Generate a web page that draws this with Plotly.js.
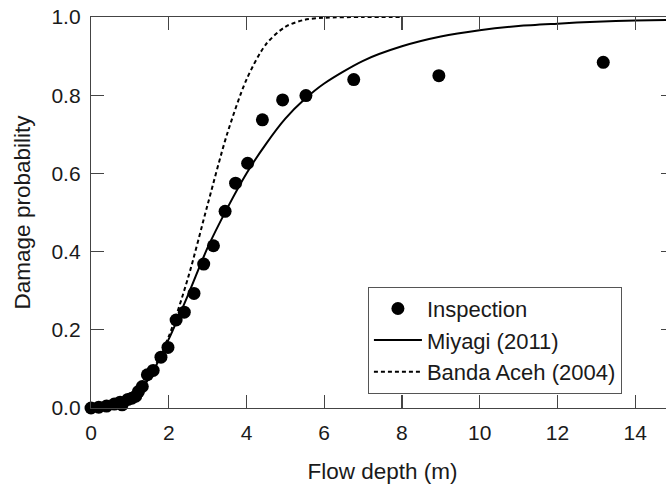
<!DOCTYPE html>
<html>
<head>
<meta charset="utf-8">
<script src="https://cdn.plot.ly/plotly-3.0.1.min.js"></script>
<style>
html,body{margin:0;padding:0;overflow:hidden;background:#fff;}
#chart{width:680px;height:491px;}
</style>
</head>
<body>
<div id="chart"></div>
<script>
// Inspection points (flow depth m, damage probability)
const inspDepth = [0, 0.2, 0.4, 0.6, 0.75, 0.8, 0.95, 1.05, 1.15, 1.22, 1.32, 1.45, 1.6, 1.8, 1.98, 2.19, 2.4, 2.65, 2.9, 3.15, 3.45, 3.72, 4.03, 4.41, 4.93, 5.53, 6.76, 8.95, 13.18];
const inspProb  = [0, 0.002, 0.005, 0.01, 0.015, 0.008, 0.022, 0.025, 0.03, 0.042, 0.055, 0.085, 0.096, 0.13, 0.155, 0.225, 0.245, 0.293, 0.368, 0.415, 0.503, 0.575, 0.626, 0.737, 0.788, 0.799, 0.840, 0.850, 0.884];

// Miyagi (2011) curve
const miyagiDepth = [0, 0.5, 1.0, 1.5, 2.0, 2.5, 3.0, 3.5, 4.0, 4.5, 5.0, 5.5, 6.0, 7.0, 8.0, 9.0, 10, 11, 12, 13, 14, 15];
const miyagiProb  = [0, 0.0005, 0.017, 0.077, 0.176, 0.29, 0.41, 0.51, 0.60, 0.675, 0.74, 0.79, 0.83, 0.888, 0.925, 0.95, 0.966, 0.977, 0.983, 0.988, 0.991, 0.993];

// Banda Aceh (2004) curve
const bandaDepth = [0, 0.5, 1.0, 1.5, 2.0, 2.5, 3.0, 3.5, 4.0, 4.5, 5.0, 5.5, 6.0, 7.0, 8.0];
const bandaProb  = [0.002, 0.01, 0.03, 0.083, 0.183, 0.334, 0.52, 0.70, 0.84, 0.93, 0.975, 0.993, 0.998, 1.0, 1.0];

const xTicks = [0, 2, 4, 6, 8, 10, 12, 14];
const yTicks = [0, 0.2, 0.4, 0.6, 0.8, 1.0];
const yTickText = ["0.0", "0.2", "0.4", "0.6", "0.8", "1.0"];

const font = "Liberation Sans, Arial, sans-serif";
const axisColor = "#444";
const textColor = "#1a1a1a";

const traces = [
  {x: inspDepth, y: inspProb, name: "Inspection", type: "scatter", mode: "markers",
   marker: {color: "#000", size: 13}, cliponaxis: false},
  {x: miyagiDepth, y: miyagiProb, name: "Miyagi (2011)", type: "scatter", mode: "lines",
   line: {color: "#000", width: 2, shape: "spline", smoothing: 0.8}},
  {x: bandaDepth, y: bandaProb, name: "Banda Aceh (2004)", type: "scatter", mode: "lines",
   line: {color: "#000", width: 2, dash: "4px,3px", shape: "spline", smoothing: 0.8}}
];

const layout = {
  width: 680, height: 491,
  margin: {l: 91, r: 6, t: 17, b: 83},
  paper_bgcolor: "#fff", plot_bgcolor: "#fff",
  font: {family: font, size: 21, color: textColor},
  showlegend: true,
  legend: {x: 0.475, y: 0.1734, xanchor: "left", yanchor: "middle",
           bordercolor: "#555", borderwidth: 1, bgcolor: "#fff", itemwidth: 48,
           font: {family: font, size: 22, color: textColor}, tracegroupgap: 0},
  xaxis: {range: [0, 15], tickvals: xTicks, ticktext: xTicks.map(String),
          ticks: "inside", ticklen: 13, tickwidth: 1.2, tickcolor: axisColor,
          showline: true, linecolor: axisColor, linewidth: 1.2, mirror: "ticks",
          showgrid: false, zeroline: false, ticklabelstandoff: 6,
          tickfont: {family: font, size: 21, color: textColor},
          title: {text: "Flow depth (m)", font: {family: font, size: 22.5, color: textColor}, standoff: 19}},
  yaxis: {range: [0, 1], tickvals: yTicks, ticktext: yTickText,
          ticks: "inside", ticklen: 13, tickwidth: 1.2, tickcolor: axisColor,
          showline: true, linecolor: axisColor, linewidth: 1.2, mirror: "ticks",
          showgrid: false, zeroline: false, ticklabelstandoff: 5,
          tickfont: {family: font, size: 21, color: textColor},
          title: {text: "Damage probability", font: {family: font, size: 22.5, color: textColor}, standoff: 14}}
};

Plotly.newPlot("chart", traces, layout, {displayModeBar: false, staticPlot: true});
</script>
</body>
</html>
